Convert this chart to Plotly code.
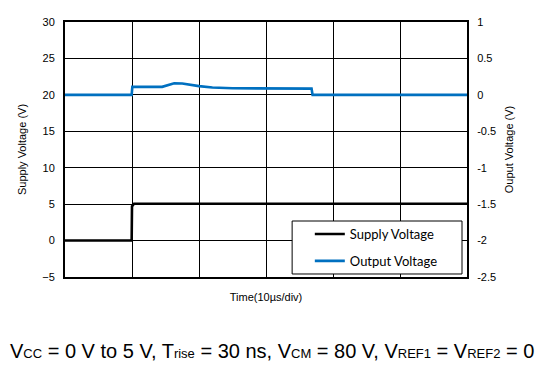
import plotly.graph_objects as go

# Time in microseconds (10 µs/div)
supply_t = [0, 9.95, 10.0, 10.3, 60]
supply_v = [0.0, 0.0, 4.7, 5.05, 5.05]

output_t = [0, 9.95, 10.05, 14.5, 16.3, 17.5, 20.0, 22.0, 25.0, 30.0, 36.8, 36.95, 45.0, 60]
output_v = [0.0, 0.0, 0.11, 0.11, 0.16, 0.155, 0.12, 0.10, 0.09, 0.085, 0.085, 0.0, 0.0, 0.0]

left_ticks = [-5, 0, 5, 10, 15, 20, 25, 30]
right_ticks = [-2.5, -2, -1.5, -1, -0.5, 0, 0.5, 1]
right_labels = ["-2.5", "-2", "-1.5", "-1", "-0.5", "0", "0.5", "1"]

BLUE = "#0070C0"
FONT = "Liberation Sans, Arial, sans-serif"

fig = go.Figure()
fig.add_trace(go.Scatter(x=supply_t, y=supply_v, mode="lines", name="Supply Voltage",
                         line=dict(color="black", width=2.6), yaxis="y", legendgroup="a"))
fig.add_trace(go.Scatter(x=output_t, y=output_v, mode="lines", name="Output Voltage",
                         line=dict(color=BLUE, width=2.6), yaxis="y2", legendgroup="b"))

fig.update_layout(
    width=541, height=367,
    margin=dict(l=65, r=74, t=22, b=90),
    paper_bgcolor="white", plot_bgcolor="white",
    font=dict(family=FONT, size=11, color="black"),
    xaxis=dict(range=[0, 60], dtick=10, tick0=0, showticklabels=False, showgrid=True,
               gridcolor="black", gridwidth=1, showline=True, linecolor="black", linewidth=1.5,
               mirror=True, zeroline=False, ticks="",
               title=dict(text="Time(10µs/div)", font=dict(size=11), standoff=16)),
    yaxis=dict(range=[-5, 30], tickvals=left_ticks, showgrid=True, gridcolor="black", gridwidth=1,
               showline=True, linecolor="black", linewidth=2, zeroline=False, ticks="",
               ticklabelstandoff=6,
               title=dict(text="Supply Voltage (V)", font=dict(size=11), standoff=13)),
    yaxis2=dict(range=[-2.5, 1], tickvals=right_ticks, ticktext=right_labels, overlaying="y",
                side="right", showgrid=False, showline=True, linecolor="black", linewidth=2,
                zeroline=False, ticks="", ticklabelstandoff=6,
                title=dict(text="Ouput Voltage (V)", font=dict(size=11), standoff=10)),
    legend=dict(x=0.609, y=0.2275, xanchor="left", yanchor="top", bgcolor="rgba(0,0,0,0)",
                borderwidth=0, font=dict(family="Lato, sans-serif", size=13),
                traceorder="grouped", tracegroupgap=7, itemwidth=30),
    showlegend=True,
)

# legend frame (white box covering grid)
fig.add_shape(type="rect", xref="paper", yref="paper", x0=0.565, x1=0.9876, y0=0.0118, y1=0.2196,
              fillcolor="white", line=dict(color="black", width=1), layer="above")

sub = '<span style="font-size:13px">{}</span>'
caption = ("V" + sub.format("CC") + " = 0 V to 5 V, T" + sub.format("rise") + " = 30 ns, V"
           + sub.format("CM") + " = 80 V, V" + sub.format("REF1") + " = V" + sub.format("REF2") + " = 0")
fig.add_annotation(
    text=caption, xref="paper", yref="paper", x=0.5137, y=-0.238, xanchor="center", yanchor="top",
    showarrow=False, font=dict(family=FONT, size=20, color="black"),
)

fig.write_html("out.html", config={"displayModeBar": False},
               post_script="document.body.style.margin='0';")
